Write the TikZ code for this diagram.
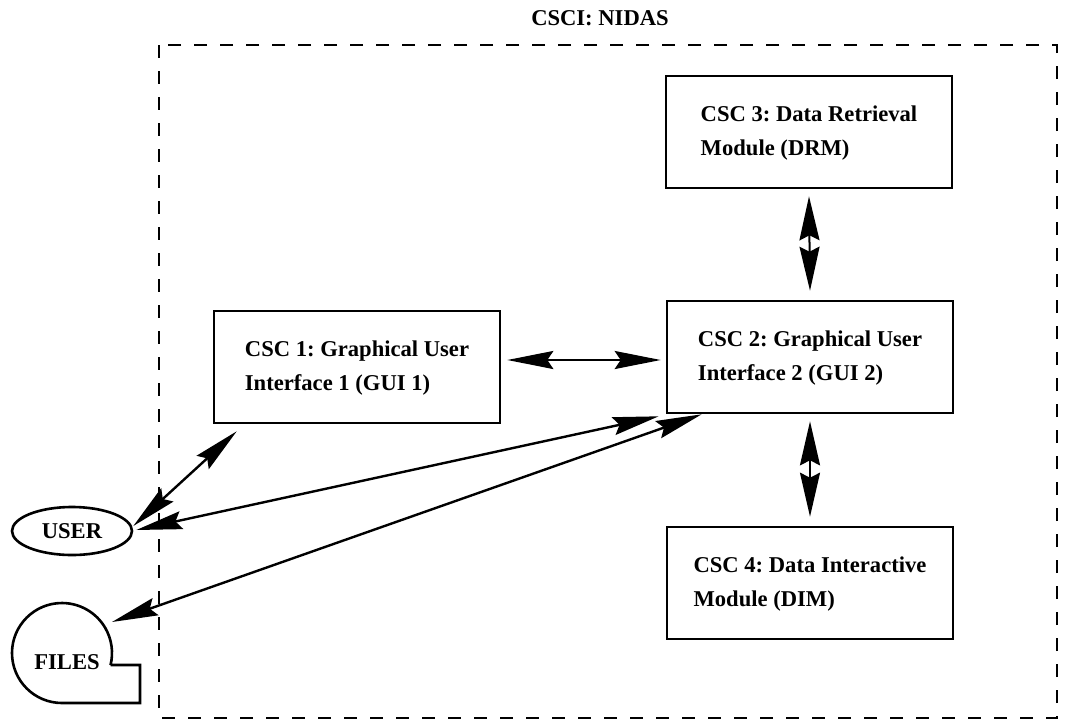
\documentclass[tikz,border=0pt]{standalone}
\usepackage{fontspec}
\setmainfont{Liberation Serif}
\usetikzlibrary{arrows.meta,shapes.geometric}
\frenchspacing
\begin{document}
\begin{tikzpicture}[x=1pt,y=1pt,
  lbl/.style={font=\fontsize{22.6}{34}\selectfont\bfseries},
  box/.style={draw, line width=2.6pt, minimum width=286pt, minimum height=112pt,
    inner xsep=4pt, inner ysep=0pt, align=left, lbl},
  frame/.style={draw, line width=2.6pt, dash pattern=on 13pt off 13pt},
  arr/.style={line width=2.4pt, {Stealth[length=46pt,width=18pt,inset=6pt]}-{Stealth[length=46pt,width=18pt,inset=6pt]}},
  varr/.style={line width=2pt, {Stealth[length=44pt,width=20pt,inset=5pt]}-{Stealth[length=44pt,width=20pt,inset=5pt]}},
  term/.style={draw, line width=2.6pt, ellipse, minimum width=120pt, minimum height=48pt, inner sep=0pt, lbl}
]
\useasboundingbox (0,0) rectangle (1075,-721);
% outer CSCI frame
\draw[frame] (159,-45) rectangle (1057,-718);
\node[lbl] (title) at (600,-18) {CSCI: NIDAS};
% components
\node[box] (c1) at (357,-367) {\strut CSC 1: Graphical User\\\strut Interface 1 (GUI 1)};
\node[box] (c2) at (810,-357) {\strut CSC 2: Graphical User\\\strut Interface 2 (GUI 2)};
\node[box] (c3) at (809,-132) {\strut CSC 3: Data Retrieval\\\strut Module (DRM)};
\node[box] (c4) at (810,-583) {\strut CSC 4: Data Interactive\\\strut Module (DIM)};
% user terminal
\node[term] (user) at (72,-531) {USER};
% files (sequential storage symbol)
\draw[line width=2.6pt, line join=miter] (110.5,-665) -- (140,-665) -- (140,-703) -- (62,-703)
  arc[start angle=-90, end angle=-374, radius=50];
\node[lbl] (files) at (67,-662) {FILES};
\coordinate (filesin) at (112,-622);
% connectors
\draw[arr] ([xshift=6pt,yshift=7pt]c1.east) -- ([xshift=-5pt,yshift=-3pt]c2.west);
\draw[varr] ([yshift=-7pt]c3.south) -- ([yshift=9pt]c2.north);
\draw[varr] ([yshift=-7pt]c2.south) -- ([yshift=9pt]c4.north);
\draw[arr] ([xshift=24pt,yshift=-7pt]c1.south west) -- ([yshift=5pt]user.east);
\draw[arr] ([xshift=3pt,yshift=1pt]user.east) -- ([xshift=-7pt,yshift=-2pt]c2.south west);
\draw[arr] (filesin) -- ([xshift=36pt]c2.south west);
\end{tikzpicture}
\end{document}
